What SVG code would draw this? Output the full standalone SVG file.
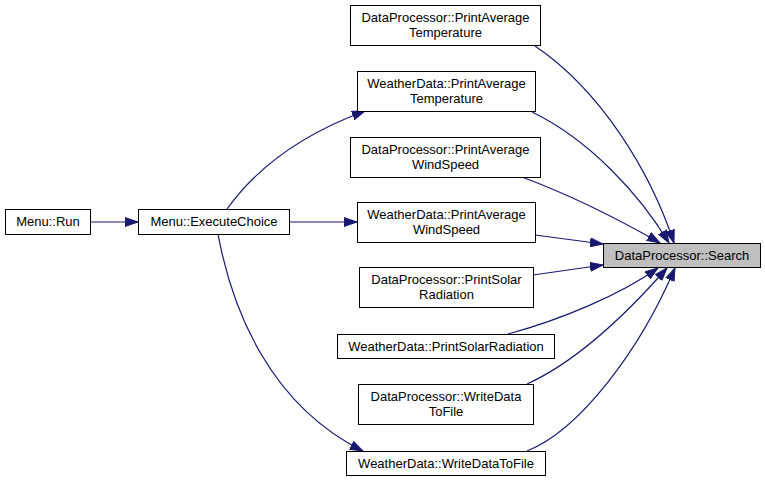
<svg xmlns="http://www.w3.org/2000/svg" width="765" height="482" viewBox="0 0 765 482">
<style>
  .node rect { fill: #ffffff; stroke: #000000; stroke-width: 1; }
  .node.hl rect { fill: #bfbfbf; }
  .node text { font-family: "Liberation Sans", Arial, sans-serif; font-size: 13px; fill: #000000; text-anchor: middle; }
  .edge { fill: none; stroke: #191970; stroke-width: 1.2; marker-end: url(#arrow); }
</style>
<defs>
  <marker id="arrow" markerUnits="userSpaceOnUse" markerWidth="14" markerHeight="10" refX="13" refY="5" orient="auto">
    <path d="M0,0.5 L13,5 L0,9.5 z" fill="#191970" stroke="#191970" stroke-width="1"/>
  </marker>
</defs>
<rect width="765" height="482" fill="#ffffff"/>
<g id="edges">
  <path class="edge" d="M91,222 L138,222"/>
  <path class="edge" d="M227,209 C255,170 300,135 365,111"/>
  <path class="edge" d="M289,222 L357,222"/>
  <path class="edge" d="M218,234 C232,310 270,405 363,451"/>
  <path class="edge" d="M535,46 C600,90 650,170 674,243"/>
  <path class="edge" d="M532,112 C590,140 640,195 669,243"/>
  <path class="edge" d="M522,177 C570,195 620,220 660,243"/>
  <path class="edge" d="M535,235 L603,244"/>
  <path class="edge" d="M533,275 L603,265"/>
  <path class="edge" d="M508,334 C560,320 620,295 658,268"/>
  <path class="edge" d="M527,384 C580,360 630,310 667,268"/>
  <path class="edge" d="M527,451 C580,430 640,350 675,268"/>
</g>
<g id="node-search" class="node hl">
  <rect x="603.5" y="243.5" width="157" height="24"/>
  <text x="682" y="260">DataProcessor::Search</text>
</g>
<g id="node-dp-pat" class="node">
  <rect x="350.5" y="5.5" width="190" height="40"/>
  <text x="445.5" y="22">DataProcessor::PrintAverage</text>
  <text x="445.5" y="37">Temperature</text>
</g>
<g id="node-wd-pat" class="node">
  <rect x="357.5" y="71.5" width="178" height="40"/>
  <text x="446.5" y="88">WeatherData::PrintAverage</text>
  <text x="446.5" y="103">Temperature</text>
</g>
<g id="node-dp-paws" class="node">
  <rect x="350.5" y="137.5" width="190" height="40"/>
  <text x="445.5" y="154">DataProcessor::PrintAverage</text>
  <text x="445.5" y="169">WindSpeed</text>
</g>
<g id="node-wd-paws" class="node">
  <rect x="357.5" y="202.5" width="178" height="40"/>
  <text x="446.5" y="219">WeatherData::PrintAverage</text>
  <text x="446.5" y="234">WindSpeed</text>
</g>
<g id="node-dp-psr" class="node">
  <rect x="359.5" y="267.5" width="174" height="40"/>
  <text x="446.5" y="284">DataProcessor::PrintSolar</text>
  <text x="446.5" y="299">Radiation</text>
</g>
<g id="node-wd-psr" class="node">
  <rect x="337.5" y="334.5" width="217" height="24"/>
  <text x="446" y="351">WeatherData::PrintSolarRadiation</text>
</g>
<g id="node-dp-wdtf" class="node">
  <rect x="358.5" y="384.5" width="175" height="40"/>
  <text x="446" y="401">DataProcessor::WriteData</text>
  <text x="446" y="416">ToFile</text>
</g>
<g id="node-wd-wdtf" class="node">
  <rect x="346.5" y="451.5" width="199" height="24"/>
  <text x="446" y="468">WeatherData::WriteDataToFile</text>
</g>
<g id="node-run" class="node">
  <rect x="5.5" y="209.5" width="85" height="25"/>
  <text x="48" y="226">Menu::Run</text>
</g>
<g id="node-exec" class="node">
  <rect x="138.5" y="209.5" width="151" height="25"/>
  <text x="214" y="226">Menu::ExecuteChoice</text>
</g>
</svg>
